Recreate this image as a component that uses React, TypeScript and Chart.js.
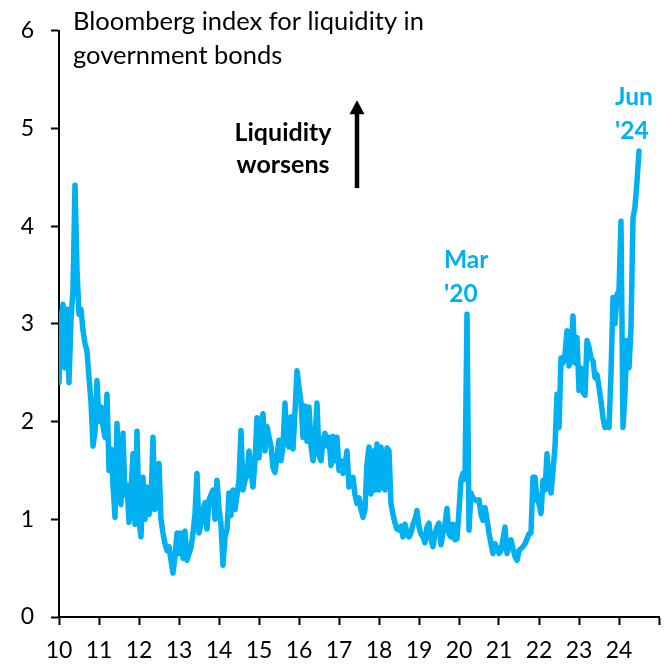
import React, { useEffect, useRef } from "react";
import { Chart, registerables } from "chart.js";

Chart.register(...registerables);

// ---- Data ----
const START_YEAR = 2010;
const END_YEAR = 2025;
const POINTS_PER_YEAR = 20;

const v2010 = [2.4, 3.05, 3.2, 2.55, 3.15, 2.4, 3.05, 3.35, 4.42, 3.55, 3.1, 3.15, 2.93, 2.8, 2.72, 2.45, 2.2, 1.75, 1.9, 2.42];
const v2011 = [2.0, 2.15, 1.95, 1.84, 2.28, 1.5, 1.72, 1.35, 1.02, 1.98, 1.3, 1.15, 1.88, 1.25, 1.35, 0.97, 1.3, 1.67, 0.95, 1.9];
const v2012 = [1.0, 0.82, 1.43, 1.0, 1.33, 1.05, 1.15, 1.84, 1.1, 1.2, 1.57, 1.0, 0.86, 0.75, 0.68, 0.72, 0.58, 0.45, 0.62, 0.86];
const v2013 = [0.65, 0.86, 0.6, 0.88, 0.58, 0.65, 0.71, 0.86, 1.06, 1.47, 0.86, 0.95, 1.1, 1.17, 0.9, 1.2, 1.25, 1.3, 1.0, 1.4];
const v2014 = [1.11, 0.95, 0.53, 0.82, 0.9, 1.27, 1.04, 1.3, 1.1, 1.25, 1.4, 1.91, 1.3, 1.4, 1.45, 1.7, 1.5, 1.33, 1.6, 2.04];
const v2015 = [1.63, 2.0, 2.08, 1.7, 1.95, 1.84, 1.75, 1.53, 1.48, 1.65, 1.81, 1.6, 1.75, 2.19, 1.8, 1.74, 2.05, 1.72, 2.1, 2.52];
const v2016 = [2.35, 2.2, 1.84, 2.16, 1.8, 2.15, 1.75, 1.6, 1.84, 2.19, 1.65, 1.6, 1.81, 1.88, 1.75, 1.84, 1.55, 1.85, 1.6, 1.84];
const v2017 = [1.5, 1.6, 1.47, 1.55, 1.7, 1.33, 1.4, 1.43, 1.25, 1.16, 1.22, 1.1, 1.02, 1.1, 1.57, 1.74, 1.26, 1.7, 1.3, 1.77];
const v2018 = [1.3, 1.74, 1.35, 1.3, 1.73, 1.7, 1.16, 1.05, 0.96, 0.9, 0.89, 0.93, 0.82, 0.95, 0.86, 0.82, 0.86, 0.95, 1.0, 1.09];
const v2019 = [0.92, 0.85, 0.82, 0.76, 0.92, 0.96, 0.79, 0.72, 0.85, 0.92, 0.96, 0.74, 0.86, 0.95, 1.11, 0.85, 0.82, 0.95, 0.79, 0.8];
const v2020 = [1.09, 1.4, 1.47, 1.41, 3.1, 0.89, 1.27, 1.22, 1.2, 1.19, 1.2, 1.05, 0.99, 1.12, 1.0, 0.86, 0.75, 0.65, 0.75, 0.7];
const v2021 = [0.65, 0.68, 0.8, 0.92, 0.65, 0.75, 0.79, 0.7, 0.62, 0.58, 0.68, 0.7, 0.72, 0.75, 0.8, 0.85, 0.86, 1.43, 1.43, 1.2];
const v2022 = [1.16, 1.06, 1.4, 1.3, 1.67, 1.37, 1.27, 1.5, 1.74, 2.28, 1.94, 2.65, 2.6, 2.69, 2.93, 2.57, 2.7, 3.08, 2.6, 2.86];
const v2023 = [2.32, 2.55, 2.3, 2.27, 2.83, 2.76, 2.65, 2.62, 2.45, 2.48, 2.35, 2.21, 2.04, 1.94, 1.96, 1.94, 2.49, 3.27, 3.0, 3.3];
const v2024 = [3.34, 4.05, 1.94, 2.3, 2.83, 2.55, 2.96, 4.08, 4.2, 4.46, 4.77];

const yearlyValues = [v2010, v2011, v2012, v2013, v2014, v2015, v2016, v2017, v2018, v2019, v2020, v2021, v2022, v2023, v2024];

const yTickValues = [0, 1, 2, 3, 4, 5, 6];
const xTickLabels = ["10", "11", "12", "13", "14", "15", "16", "17", "18", "19", "20", "21", "22", "23", "24"];

const titleLines = ["Bloomberg index for liquidity in", "government bonds"];
const noteLines = ["Liquidity", "worsens"];
const marLines = ["Mar", "'20"];
const junLines = ["Jun", "'24"];

// ---- Styles / annotation anchors (data units) ----
const BLUE = "#00B0F0";
const FONT = "Lato, 'Open Sans', sans-serif";
const TITLE_AT = { x: 2010.35, y: 6.01 };
const NOTE_AT = { x: 2015.6, y: 4.87 };
const ARROW_AT = { x: 2017.45, y0: 4.39, y1: 5.29 };
const MAR_AT = { x: 2019.625, y: 3.57 };
const JUN_AT = { x: 2023.9, y: 5.24 };

function buildPoints() {
  const pts: { x: number; y: number }[] = [];
  yearlyValues.forEach((vals, k) => {
    vals.forEach((v, i) => {
      pts.push({ x: START_YEAR + k + i / POINTS_PER_YEAR, y: v });
    });
  });
  return pts;
}

const notesPlugin = {
  id: "notes",
  afterDraw(chart: any) {
    const { ctx, scales } = chart;
    const xs = scales.x;
    const ys = scales.y;
    ctx.save();
    ctx.textBaseline = "alphabetic";

    // Title
    ctx.font = `25.5px ${FONT}`;
    ctx.fillStyle = "#000";
    ctx.textAlign = "left";
    const tx = xs.getPixelForValue(TITLE_AT.x);
    const ty = ys.getPixelForValue(TITLE_AT.y);
    titleLines.forEach((t, i) => ctx.fillText(t, tx, ty + i * 34));

    // Liquidity worsens
    ctx.font = `bold 25px ${FONT}`;
    ctx.textAlign = "center";
    const nx = xs.getPixelForValue(NOTE_AT.x);
    const ny = ys.getPixelForValue(NOTE_AT.y);
    noteLines.forEach((t, i) => ctx.fillText(t, nx, ny + i * 32));

    // Arrow
    const ax = xs.getPixelForValue(ARROW_AT.x);
    const ay0 = ys.getPixelForValue(ARROW_AT.y0);
    const ay1 = ys.getPixelForValue(ARROW_AT.y1);
    ctx.strokeStyle = "#000";
    ctx.fillStyle = "#000";
    ctx.lineWidth = 4.5;
    ctx.beginPath();
    ctx.moveTo(ax, ay0);
    ctx.lineTo(ax, ay1 + 12);
    ctx.stroke();
    ctx.beginPath();
    ctx.moveTo(ax, ay1);
    ctx.lineTo(ax - 7.5, ay1 + 14);
    ctx.lineTo(ax + 7.5, ay1 + 14);
    ctx.closePath();
    ctx.fill();

    // Mar '20 and Jun '24
    ctx.font = `bold 24.5px ${FONT}`;
    ctx.fillStyle = BLUE;
    ctx.textAlign = "left";
    const mx = xs.getPixelForValue(MAR_AT.x);
    const my = ys.getPixelForValue(MAR_AT.y);
    marLines.forEach((t, i) => ctx.fillText(t, mx, my + i * 34));
    const jx = xs.getPixelForValue(JUN_AT.x);
    const jy = ys.getPixelForValue(JUN_AT.y);
    junLines.forEach((t, i) => ctx.fillText(t, jx, jy + i * 34));

    ctx.restore();
  },
};

export default function App() {
  const canvasRef = useRef<HTMLCanvasElement | null>(null);

  useEffect(() => {
    if (!canvasRef.current) return;
    const chart = new Chart(canvasRef.current, {
      type: "line",
      data: {
        datasets: [
          {
            data: buildPoints(),
            borderColor: BLUE,
            backgroundColor: BLUE,
            borderWidth: 5.5,
            pointRadius: 0,
            tension: 0,
            borderJoinStyle: "round",
            borderCapStyle: "round",
            fill: false,
          },
        ],
      },
      options: {
        animation: false,
        responsive: false,
        devicePixelRatio: 1,
        layout: { padding: { left: 0, top: 29, right: 13, bottom: 0 } },
        plugins: {
          legend: { display: false },
          tooltip: { enabled: false },
        },
        scales: {
          x: {
            type: "linear",
            min: START_YEAR,
            max: END_YEAR,
            afterBuildTicks: (scale: any) => {
              const ticks = [];
              for (let yv = START_YEAR; yv <= END_YEAR; yv++) ticks.push({ value: yv });
              scale.ticks = ticks;
            },
            afterFit: (scale: any) => {
              scale.height = 49;
            },
            ticks: {
              autoSkip: false,
              maxRotation: 0,
              padding: 12,
              color: "#000",
              font: { family: FONT, size: 23 },
              callback: (value: any) => {
                const idx = Math.round(Number(value)) - START_YEAR;
                return xTickLabels[idx] ?? "";
              },
            },
            grid: {
              drawOnChartArea: false,
              drawTicks: true,
              tickLength: 8,
              tickWidth: 2,
              tickColor: "#000",
            },
            border: { display: true, color: "#000", width: 2 },
          },
          y: {
            min: 0,
            max: 6,
            afterBuildTicks: (scale: any) => {
              scale.ticks = yTickValues.map((v) => ({ value: v }));
            },
            afterFit: (scale: any) => {
              scale.width = 59;
            },
            ticks: {
              padding: 17,
              color: "#000",
              font: { family: FONT, size: 23 },
              callback: (value: any) => String(value),
            },
            grid: {
              drawOnChartArea: false,
              drawTicks: true,
              tickLength: 8,
              tickWidth: 2,
              tickColor: "#000",
            },
            border: { display: true, color: "#000", width: 2 },
          },
        },
      },
      plugins: [notesPlugin],
    });
    return () => chart.destroy();
  }, []);

  return (
    <div style={{ position: "absolute", left: 0, top: 0, width: 672, height: 666, background: "#fff" }}>
      <canvas ref={canvasRef} width={672} height={666} />
    </div>
  );
}
